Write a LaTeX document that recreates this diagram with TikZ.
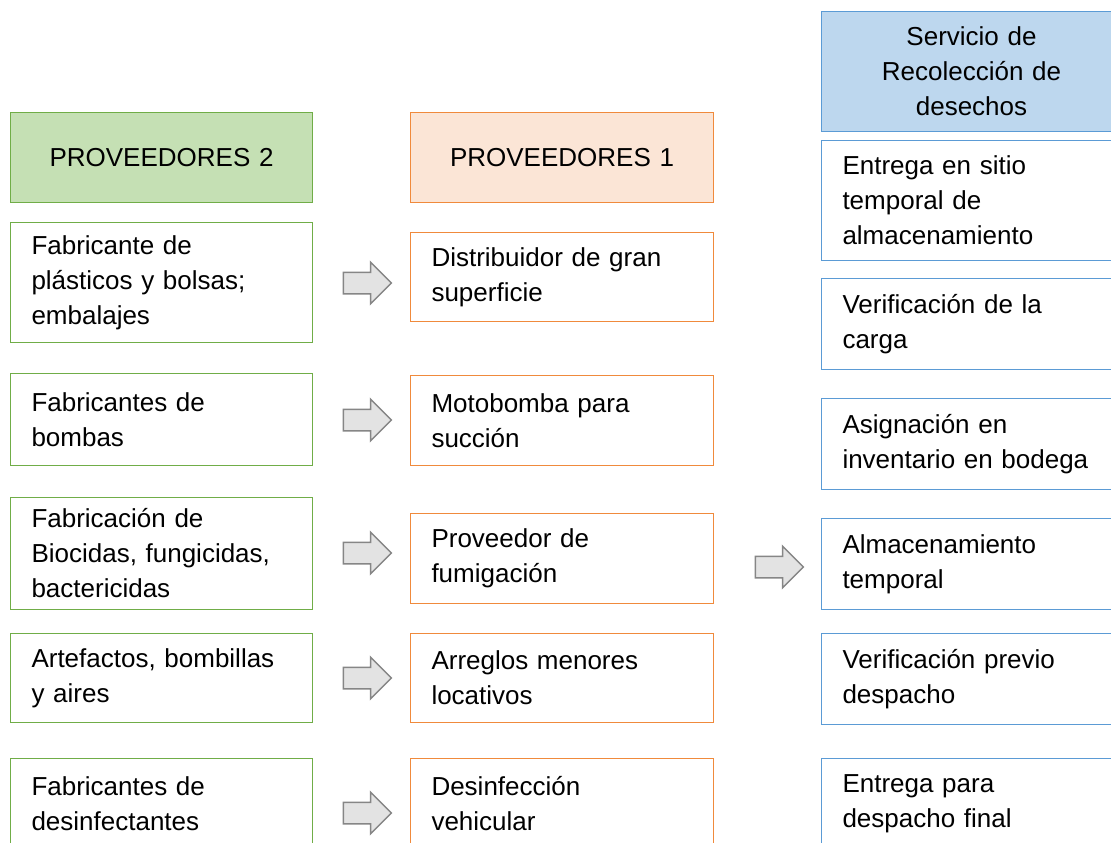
\documentclass[tikz,border=0pt]{standalone}
\usepackage{fontspec}
\setmainfont{Liberation Sans}
\usetikzlibrary{shapes.arrows}

\definecolor{verdeborde}{HTML}{70AD47}
\definecolor{verdefondo}{HTML}{C5E0B4}
\definecolor{naranjaborde}{HTML}{F08A3C}
\definecolor{naranjafondo}{HTML}{FBE5D6}
\definecolor{azulborde}{HTML}{5B9BD5}
\definecolor{azulfondo}{HTML}{BDD7EE}

\tikzset{
  caja/.style={draw, rectangle, anchor=north west, line width=1pt, inner xsep=21pt, inner ysep=0pt, align=left, font=\fontsize{26}{35}\selectfont},
  verde/.style={caja, draw=verdeborde, text width=260pt},
  naranja/.style={caja, draw=naranjaborde, text width=261pt},
  azul/.style={caja, draw=azulborde, text width=258pt},
  flecha/.style={single arrow, draw=gray!95, fill=gray!22, line width=1.5pt, minimum height=48pt, single arrow head extend=10pt, inner xsep=0pt, inner ysep=10pt}
}

\begin{document}
\begin{tikzpicture}[x=1pt,y=-1pt]
\useasboundingbox (0,0) rectangle (1111,843);
\clip (0,0) rectangle (1111,843);

% proveedores 2
\node[verde, fill=verdefondo, align=center, minimum height=90pt] (prov2) at (10,112) {PROVEEDORES 2};
\node[verde, minimum height=120pt] (plasticos) at (10,222) {Fabricante de\\plásticos y bolsas;\\embalajes};
\node[verde, minimum height=92pt] (bombas) at (10,373) {Fabricantes de\\bombas};
\node[verde, minimum height=112pt] (biocidas) at (10,497) {Fabricación de\\Biocidas, fungicidas,\\bactericidas};
\node[verde, minimum height=89pt] (artefactos) at (10,633) {Artefactos, bombillas\\y aires};
\node[verde, minimum height=90pt] (desinf) at (10,758) {Fabricantes de\\desinfectantes};

% proveedores 1
\node[naranja, fill=naranjafondo, align=center, minimum height=90pt] (prov1) at (410,112) {PROVEEDORES 1};
\node[naranja, minimum height=89pt] (distribuidor) at (410,232) {Distribuidor de gran\\superficie};
\node[naranja, minimum height=90pt] (motobomba) at (410,375) {Motobomba para\\succión};
\node[naranja, minimum height=90pt] (fumigacion) at (410,513) {Proveedor de\\fumigación};
\node[naranja, minimum height=89pt] (arreglos) at (410,633) {Arreglos menores\\locativos};
\node[naranja, minimum height=90pt] (vehicular) at (410,758) {Desinfección\\vehicular};

% servicio de recoleccion
\node[azul, fill=azulfondo, align=center, minimum height=120pt] (servicio) at (821,11) {Servicio de\\Recolección de\\desechos};
\node[azul, minimum height=120pt] (entrega) at (821,140) {Entrega en sitio\\temporal de\\almacenamiento};
\node[azul, minimum height=91pt] (carga) at (821,278) {Verificación de la\\carga};
\node[azul, minimum height=91pt] (asignacion) at (821,398) {Asignación en\\inventario en bodega};
\node[azul, minimum height=91pt] (almacen) at (821,518) {Almacenamiento\\temporal};
\node[azul, minimum height=91pt] (previo) at (821,633) {Verificación previo\\despacho};
\node[azul, minimum height=91pt] (final) at (821,758) {Entrega para\\despacho final};

% flechas
\node[flecha] (f1) at (362,283) {};
\node[flecha] (f2) at (362,420) {};
\node[flecha] (f3) at (362,553) {};
\node[flecha] (f4) at (362,678) {};
\node[flecha] (f5) at (362,813) {};
\node[flecha] (f6) at (774,567) {};

\end{tikzpicture}
\end{document}
